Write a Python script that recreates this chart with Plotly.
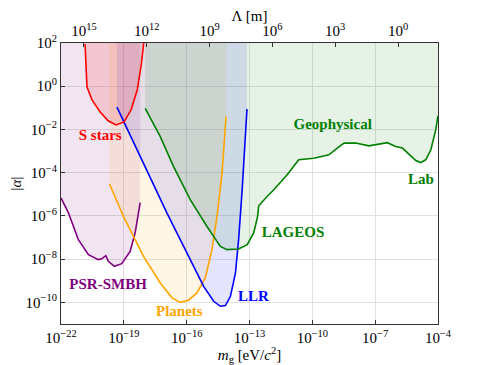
import numpy as np
import plotly.graph_objects as go

# log10 values: (log m_g [eV], log |alpha|)
s_stars_logm = [-20.85, -20.80, -20.76, -20.52, -20.13, -19.75, -19.37, -18.99, -18.65, -18.36, -18.17, -18.05]
s_stars_loga = [1.95, 0.75, -0.03, -0.63, -1.19, -1.60, -1.79, -1.65, -1.09, -0.17, 0.98, 2.0]

psr_logm = [-22.0, -21.65, -21.17, -20.69, -20.22, -20.05, -19.86, -19.74, -19.45, -19.10, -18.70, -18.46, -18.30, -18.22]
psr_loga = [-5.17, -5.85, -7.10, -7.79, -8.02, -7.98, -7.84, -8.10, -8.33, -8.21, -7.64, -6.78, -5.85, -5.38]

planets_logm = [-19.69, -19.02, -18.06, -17.26, -16.70, -16.31, -15.91, -15.51, -15.11, -14.79, -14.55, -14.31, -14.12]
planets_loga = [-4.51, -6.02, -7.87, -9.10, -9.79, -10.00, -9.90, -9.56, -8.87, -7.56, -6.02, -4.02, -1.40]

llr_logm = [-19.33, -18.22, -16.94, -15.99, -15.19, -14.71, -14.39, -14.15, -13.91, -13.67, -13.52, -13.35, -13.24, -13.12]
llr_loga = [-0.97, -3.25, -5.87, -7.71, -9.26, -9.95, -10.18, -10.15, -9.72, -8.64, -7.10, -4.79, -2.94, -1.05]

geo_logm = [-17.98, -17.26, -16.63, -15.83, -15.03, -14.63, -14.39, -14.07, -13.52, -13.11, -12.80, -12.61,
            -12.56, -12.16, -11.84, -11.20, -10.65, -9.93, -9.21, -8.81, -8.49, -7.93, -7.30, -6.42, -6.02,
            -5.70, -5.38, -5.06, -4.82, -4.58, -4.34, -4.11, -4.0]
geo_loga = [-1.02, -2.33, -3.71, -5.25, -6.49, -7.10, -7.41, -7.56, -7.53, -7.33, -6.79, -6.02,
            -5.53, -5.10, -4.79, -4.10, -3.40, -3.33, -3.17, -2.86, -2.63, -2.63, -2.76, -2.61, -2.79,
            -2.86, -3.17, -3.44, -3.53, -3.40, -2.94, -2.02, -1.37]

labels = ["S stars", "PSR-SMBH", "Planets", "LLR", "LAGEOS", "Geophysical", "Lab"]
label_logm = [-20.13, -19.75, -16.35, -12.81, -10.92, -9.03, -4.82]
label_loga = [-2.30, -9.22, -10.47, -9.78, -6.78, -1.79, -4.33]
label_colors = ["red", "purple", "orange", "blue", "green", "green", "green"]

X_RANGE = [-22, -4]
Y_RANGE = [-11, 2]
HC = 1.23984e-6  # eV m, Lambda = hc / m_g

x_ticks = [-22, -19, -16, -13, -10, -7, -4]
y_ticks = [2, 0, -2, -4, -6, -8, -10]
lam_ticks = [15, 12, 9, 6, 3, 0]

FONT = "Liberation Serif, Times New Roman, DejaVu Serif, serif"


def sup(e):
    return "10<sup>" + str(e).replace("-", "\u2212") + "</sup>"


curves = [
    (psr_logm, psr_loga, "purple", "rgba(128,0,128,0.10)"),
    (planets_logm, planets_loga, "orange", "rgba(255,165,0,0.10)"),
    (llr_logm, llr_loga, "blue", "rgba(0,0,255,0.10)"),
    (geo_logm, geo_loga, "green", "rgba(0,128,0,0.10)"),
    (s_stars_logm, s_stars_loga, "red", "rgba(255,0,0,0.13)"),
]

fig = go.Figure()
top = 10 ** Y_RANGE[1]
for lm, la, col, fillcol in curves:
    x = list(10 ** np.array(lm))
    y = list(10 ** np.array(la))
    # region above the curve, up to the top of the plot
    fig.add_trace(go.Scatter(
        x=x + [x[-1], x[0]], y=y + [top, top],
        fill="toself", fillcolor=fillcol, mode="none",
        hoverinfo="skip", showlegend=False,
    ))
for lm, la, col, fillcol in curves:
    fig.add_trace(go.Scatter(
        x=10 ** np.array(lm), y=10 ** np.array(la), mode="lines",
        line=dict(color=col, width=1.6), showlegend=False,
    ))

fig.add_trace(go.Scatter(
    x=10 ** np.array(label_logm), y=10 ** np.array(label_loga), mode="text",
    text=["<b>" + t + "</b>" for t in labels],
    textfont=dict(family=FONT, size=15, color=label_colors),
    showlegend=False, hoverinfo="skip",
))

# invisible trace so the top axis is drawn
fig.add_trace(go.Scatter(
    x=[HC / 10 ** X_RANGE[0], HC / 10 ** X_RANGE[1]], y=[1, 1], xaxis="x2",
    mode="markers", marker=dict(opacity=0), showlegend=False, hoverinfo="skip",
))

axis_common = dict(
    type="log", showline=True, linecolor="#333", linewidth=1.2,
    ticks="inside", ticklen=4, tickcolor="#333", automargin=False,
    tickfont=dict(family=FONT, size=15, color="black"),
    gridcolor="#e0e0e0", gridwidth=1, zeroline=False,
)

# page body keeps an 8px margin, so the figure is sized to fit inside the window
fig.update_layout(
    width=479, height=357,
    margin=dict(l=53, r=49, t=35, b=41),
    paper_bgcolor="white", plot_bgcolor="white",
    font=dict(family=FONT, size=15, color="black"),
    xaxis=dict(
        axis_common, range=X_RANGE,
        tickvals=[10 ** e for e in x_ticks], ticktext=[sup(e) for e in x_ticks],
        title=dict(text="<i>m</i><sub>g</sub> [eV/<i>c</i><sup>2</sup>]", standoff=1,
                   font=dict(family=FONT, size=15)),
    ),
    xaxis2=dict(
        axis_common, overlaying="x", side="top", showgrid=False,
        range=[np.log10(HC) - X_RANGE[0], np.log10(HC) - X_RANGE[1]],
        tickvals=[10 ** e for e in lam_ticks], ticktext=[sup(e) for e in lam_ticks],
        title=dict(text="\u039b [m]", standoff=0, font=dict(family=FONT, size=15)),
    ),
    yaxis=dict(
        axis_common, range=Y_RANGE, mirror=True,
        tickvals=[10 ** e for e in y_ticks], ticktext=[sup(e) for e in y_ticks],
        title=dict(text="|<i>\u03b1</i>|", standoff=4, font=dict(family=FONT, size=15)),
    ),
)

fig.write_html("out.html")
